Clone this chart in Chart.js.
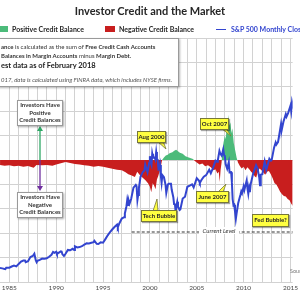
<!DOCTYPE html>
<html>
<head>
<meta charset="utf-8">
<script src="https://cdn.jsdelivr.net/npm/chart.js@4.4.1/dist/chart.umd.min.js"></script>
<style>
  html, body { margin: 0; padding: 0; background: #fff; }
  #wrap { position: relative; width: 300px; height: 300px; overflow: hidden; font-family: Lato, "Open Sans", sans-serif; color: #262626; }
  #grafico { position: absolute; left: 0; top: 0; }
  .abs { position: absolute; white-space: nowrap; }
  .callout { position: absolute; background: #ffff40; border: 1px solid #77773a; font-size: 6px; font-weight: bold; line-height: 9px; text-align: center; box-shadow: 1px 1px 1px rgba(0,0,0,.35); white-space: nowrap; }
  .investors { position: absolute; background: #fff; border: 1px solid #9a9a9a; font-size: 6px; font-weight: bold; line-height: 7.5px; text-align: center; box-shadow: 1px 1px 2px rgba(0,0,0,.35); color: #333; }
</style>
</head>
<body>
<div id="wrap">
  <canvas id="grafico" width="300" height="300"></canvas>
  <svg class="abs" width="300" height="300" style="left:0;top:0">
    <line x1="40" y1="160" x2="40" y2="130" stroke="#2fa866" stroke-width="1.3"/>
    <polygon points="37,131 43,131 40,126" fill="#2fa866"/>
    <line x1="40" y1="160" x2="40" y2="187" stroke="#7030a0" stroke-width="1.3"/>
    <polygon points="37,186 43,186 40,191" fill="#7030a0"/>
    <polygon points="157,141 163,141 166,149" fill="#ffff40" stroke="#77773a" stroke-width="0.8"/>
    <polygon points="221,128 226,128 231,136" fill="#ffff40" stroke="#77773a" stroke-width="0.8"/>
    <polygon points="153,211 158,211 157,199" fill="#ffff40" stroke="#77773a" stroke-width="0.8"/>
    <polygon points="218,192 223,192 226,184" fill="#ffff40" stroke="#77773a" stroke-width="0.8"/>
  </svg>

  <div class="abs" style="left:0;top:4px;width:300px;text-align:center;font-size:11px;font-weight:bold;">Investor Credit and the Market</div>

  <div class="abs" style="left:-2px;top:26px;width:10px;height:6px;background:#4cbb7a"></div>
  <div class="abs" style="left:12px;top:25px;font-size:7px;font-weight:bold;">Positive Credit Balance</div>
  <div class="abs" style="left:105px;top:26px;width:10px;height:6px;background:#c81e1e"></div>
  <div class="abs" style="left:119px;top:25px;font-size:7px;font-weight:bold;">Negative Credit Balance</div>
  <div class="abs" style="left:216px;top:28.5px;width:10px;height:1.8px;background:#3345cf"></div>
  <div class="abs" style="left:231px;top:25px;font-size:7px;font-weight:bold;color:#3345cf;">S&amp;P 500 Monthly Close</div>

  <div class="abs" style="left:-2px;top:38px;width:179px;height:47px;background:#fff;border:1px solid #9a9a9a;box-shadow:1px 1px 2px rgba(0,0,0,.3);font-size:6px;color:#333;">
    <div class="abs" style="left:2px;top:4px;"><b>ance</b> is calculated as the sum of <b>Free Credit Cash Accounts</b></div>
    <div class="abs" style="left:2px;top:13px;"><b>Balances in Margin Accounts</b> minus <b>Margin Debt.</b></div>
    <div class="abs" style="left:2px;top:22px;font-size:7.5px;font-weight:bold;color:#222;">est data as of February 2018</div>
    <div class="abs" style="left:2px;top:37px;font-style:italic;color:#555;">017, data is calculated using FINRA data, which includes NYSE firms.</div>
  </div>

  <div class="investors" style="left:17px;top:100px;width:44px;height:24px;">Investors Have<br>Positive<br>Credit Balances</div>
  <div class="investors" style="left:17px;top:192px;width:44px;height:24px;">Investors Have<br>Negative<br>Credit Balances</div>

  <div class="callout" style="left:137px;top:131px;width:27px;height:10px;">Aug 2000</div>
  <div class="callout" style="left:200px;top:118px;width:27px;height:10px;">Oct 2007</div>
  <div class="callout" style="left:141px;top:210px;width:34px;height:10px;">Tech Bubble</div>
  <div class="callout" style="left:196px;top:191px;width:31px;height:10px;">June 2007</div>
  <div class="callout" style="left:252px;top:214px;width:35px;height:11px;">Fed Bubble?</div>

  <div class="abs" style="left:199px;top:227px;width:40px;text-align:center;background:#fff;font-size:6px;font-style:italic;color:#333;">Current Level</div>
  <div class="abs" style="left:290px;top:268px;font-size:5.5px;color:#777;">Source</div>
</div>

<script>
// saldo de credito (miles de millones USD)
const creditDates = [1984.0, 1984.5, 1985.0, 1985.5, 1986.0, 1986.5, 1987.0, 1987.6, 1987.9, 1988.5, 1989.0, 1989.6,
  1990.0, 1990.6, 1991.0, 1991.5, 1992.0, 1992.5, 1993.0, 1993.5, 1994.0, 1994.5, 1995.0, 1995.5, 1996.0, 1996.5,
  1997.0, 1997.4, 1997.7, 1998.0, 1998.4, 1998.65, 1998.9, 1999.2, 1999.5, 1999.8, 2000.0, 2000.15, 2000.3, 2000.45,
  2000.6, 2000.75, 2000.9, 2001.05, 2001.2, 2001.3, 2001.5, 2001.7, 2001.9, 2002.1, 2002.4, 2002.6, 2002.8, 2003.0,
  2003.2, 2003.5, 2003.8, 2004.0, 2004.3, 2004.6, 2004.8, 2005.0, 2005.3, 2005.6, 2005.9, 2006.2, 2006.5, 2006.8,
  2007.0, 2007.2, 2007.35, 2007.45, 2007.55, 2007.65, 2007.72, 2007.85, 2008.0, 2008.1, 2008.2, 2008.3, 2008.4,
  2008.5, 2008.6, 2008.7, 2008.8, 2008.95, 2009.1, 2009.25, 2009.4, 2009.6, 2009.8, 2010.0, 2010.2, 2010.4, 2010.6,
  2010.8, 2011.0, 2011.2, 2011.35, 2011.5, 2011.7, 2011.9, 2012.1, 2012.3, 2012.5, 2012.7, 2012.9, 2013.1, 2013.3,
  2013.5, 2013.7, 2013.9, 2014.1, 2014.3, 2014.5, 2014.7, 2014.9, 2015.1, 2015.3];
const creditValues = [-20, -24, -22, -26, -24, -28, -25, -32, -20, -22, -20, -24,
  -18, -12, -8, -12, -16, -18, -22, -24, -28, -25, -28, -32, -36, -40,
  -42, -50, -58, -62, -70, -48, -60, -72, -82, -95, -110, -132, -95, -105,
  -120, -80, -65, -45, -20, 0, 10, 18, 22, 28, 32, 38, 42, 36,
  30, 26, 15, 12, 8, 4, -4, -10, -18, -14, -26, -22, -30, -42,
  -38, -55, -48, -90, -40, -10, 30, 70, 100, 85, 140, 120, 185,
  140, 155, 110, 130, 70, 40, 10, -10, -25, -35, -28, -42, -30, -38,
  -48, -55, -68, -72, -50, -35, -42, -50, -60, -48, -45, -58, -75, -95,
  -100, -115, -130, -140, -148, -150, -160, -165, -180, -190];

// S&P 500 cierre mensual
const spxDates = [1984.0, 1984.25, 1984.5, 1984.58, 1984.67, 1985.0, 1985.25, 1985.5, 1985.75, 1986.0, 1986.25, 1986.5,
  1986.67, 1986.75, 1987.0, 1987.25, 1987.5, 1987.67, 1987.83, 1987.92, 1988.0, 1988.25, 1988.5, 1988.75, 1989.0,
  1989.25, 1989.5, 1989.67, 1989.83, 1990.0, 1990.08, 1990.5, 1990.58, 1990.67, 1990.83, 1991.0, 1991.25, 1991.5,
  1991.75, 1991.92, 1992.0, 1992.25, 1992.5, 1992.75, 1993.0, 1993.25, 1993.5, 1993.75, 1994.0, 1994.08, 1994.33,
  1994.5, 1994.75, 1995.0, 1995.25, 1995.5, 1995.75, 1996.0, 1996.25, 1996.5, 1996.58, 1996.75, 1997.0, 1997.25,
  1997.33, 1997.5, 1997.58, 1997.67, 1997.75, 1997.83, 1998.0, 1998.25, 1998.5, 1998.58, 1998.67, 1998.75, 1998.83,
  1999.0, 1999.25, 1999.42, 1999.5, 1999.75, 1999.92, 2000.0, 2000.08, 2000.17, 2000.25, 2000.33, 2000.5, 2000.58,
  2000.67, 2000.75, 2000.83, 2000.92, 2001.0, 2001.08, 2001.17, 2001.25, 2001.33, 2001.5, 2001.67, 2001.75, 2001.92,
  2002.0, 2002.25, 2002.33, 2002.5, 2002.58, 2002.67, 2002.75, 2002.83, 2002.92, 2003.0, 2003.17, 2003.25, 2003.5,
  2003.75, 2004.0, 2004.25, 2004.5, 2004.67, 2005.0, 2005.25, 2005.33, 2005.5, 2005.75, 2006.0, 2006.33, 2006.5,
  2006.75, 2007.0, 2007.17, 2007.25, 2007.42, 2007.5, 2007.67, 2007.83, 2007.92, 2008.0, 2008.08, 2008.25, 2008.42,
  2008.5, 2008.67, 2008.75, 2008.83, 2008.92, 2009.0, 2009.08, 2009.17, 2009.25, 2009.42, 2009.5, 2009.67, 2009.75,
  2009.83, 2010.0, 2010.08, 2010.33, 2010.42, 2010.5, 2010.58, 2010.67, 2010.75, 2011.0, 2011.33, 2011.5, 2011.67,
  2011.75, 2011.83, 2012.0, 2012.25, 2012.42, 2012.75, 2012.92, 2013.0, 2013.25, 2013.42, 2013.5, 2013.67, 2013.75,
  2014.0, 2014.08, 2014.25, 2014.5, 2014.58, 2014.75, 2015.0, 2015.08, 2015.17, 2015.25, 2015.33, 2015.42];
const spxValues = [164, 159, 153, 151, 167, 167, 181, 192, 182, 211, 238, 251,
  252, 231, 242, 291, 304, 330, 252, 230, 247, 259, 274, 272, 278,
  295, 318, 351, 340, 353, 329, 358, 356, 323, 304, 330, 375, 371,
  388, 375, 417, 404, 408, 418, 436, 452, 451, 459, 466, 482, 446,
  444, 463, 459, 501, 545, 584, 616, 645, 671, 640, 687, 741, 757,
  801, 885, 954, 899, 947, 915, 970, 1102, 1134, 1121, 957, 1017, 1099,
  1229, 1286, 1302, 1373, 1283, 1389, 1469, 1394, 1366, 1499, 1452, 1455, 1431,
  1518, 1437, 1429, 1315, 1320, 1366, 1240, 1160, 1249, 1224, 1134, 1041, 1139,
  1148, 1147, 1077, 990, 912, 916, 815, 886, 936, 880, 841, 848, 975,
  996, 1112, 1126, 1141, 1104, 1212, 1181, 1157, 1191, 1229, 1248, 1311, 1270,
  1336, 1418, 1406, 1421, 1531, 1503, 1474, 1549, 1481, 1468, 1379, 1323, 1400,
  1280, 1283, 1166, 969, 896, 903, 826, 735, 798, 919, 919, 1021, 1057,
  1036, 1115, 1074, 1187, 1089, 1031, 1102, 1049, 1141, 1258, 1364, 1321, 1219,
  1131, 1253, 1258, 1408, 1310, 1441, 1416, 1426, 1569, 1631, 1606, 1633, 1682,
  1848, 1783, 1872, 1960, 1931, 1972, 2059, 1995, 2105, 2068, 2086, 2107];

// nivel actual y rango visible
const currentLevel = -295;
const currentFrom = 1998.06;
const currentTo = 2016;
const yearLabels = [1985, 1990, 1995, 2000, 2005, 2010, 2015];

const ctx = document.getElementById('grafico').getContext('2d');
const gridColor = '#d2d2d2';

new Chart(ctx, {
  data: {
    datasets: [
      {
        type: 'line',
        label: 'S&P 500 Monthly Close',
        data: spxDates.map((x, i) => ({ x: x, y: spxValues[i] })),
        yAxisID: 'ySpx',
        borderColor: '#3345cf',
        borderWidth: 2,
        pointRadius: 0,
        tension: 0,
        order: 1
      },
      {
        type: 'line',
        label: 'Current Level',
        data: [{ x: currentFrom, y: currentLevel }, { x: currentTo, y: currentLevel }],
        yAxisID: 'yCredit',
        borderColor: '#333',
        borderWidth: 1.2,
        borderDash: [3, 2],
        pointRadius: 0,
        order: 2
      },
      {
        type: 'line',
        label: 'Credit Balance',
        data: creditDates.map((x, i) => ({ x: x, y: creditValues[i] })),
        yAxisID: 'yCredit',
        borderColor: 'rgba(0,0,0,0)',
        borderWidth: 0,
        pointRadius: 0,
        tension: 0,
        fill: { target: 'origin', above: '#4cbb7a', below: '#c81e1e' },
        order: 3
      }
    ]
  },
  options: {
    responsive: false,
    animation: false,
    layout: { padding: { top: 38, left: 0, right: 0, bottom: 0 } },
    plugins: { legend: { display: false }, tooltip: { enabled: false } },
    scales: {
      x: {
        type: 'linear',
        min: 1984.01,
        max: 2015.23,
        ticks: {
          stepSize: 1,
          includeBounds: false,
          autoSkip: false,
          maxRotation: 0,
          padding: 2,
          color: '#444',
          font: { family: 'Lato', size: 6.5 },
          callback: value => yearLabels.includes(value) ? String(value) : ''
        },
        grid: { color: gridColor, drawTicks: false },
        border: { display: false },
        afterFit: scale => { scale.height = 18; }
      },
      yCredit: {
        position: 'left',
        min: -500,
        max: 500,
        ticks: { stepSize: 100, display: false },
        grid: { color: gridColor, drawTicks: false },
        border: { display: false },
        afterFit: scale => { scale.width = 0; }
      },
      ySpx: {
        display: false,
        position: 'right',
        min: 0,
        max: 2850
      }
    }
  }
});
</script>
</body>
</html>
